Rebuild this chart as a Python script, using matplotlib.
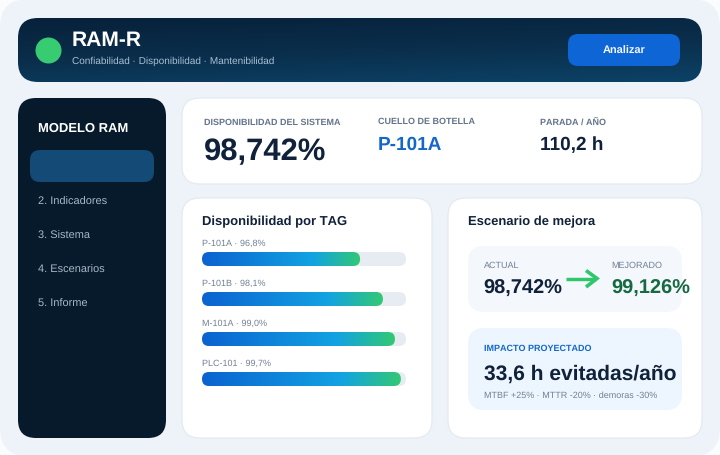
import numpy as np
import matplotlib
matplotlib.use("Agg")
import matplotlib.pyplot as plt
from matplotlib.patches import FancyBboxPatch
from matplotlib.colors import LinearSegmentedColormap

plt.rcParams['font.family'] = ['Liberation Sans', 'DejaVu Sans']
plt.rcParams['text.hinting'] = 'no_hinting'
plt.rcParams['text.hinting_factor'] = 1

# ---- data ----
tag_names = ["P-101A", "P-101B", "M-101A", "PLC-101"]
tag_labels = ["96,8%", "98,1%", "99,0%", "99,7%"]
tag_fill_pct = [77.5, 88.7, 94.6, 97.5]
nav_items = ["2. Indicadores", "3. Sistema", "4. Escenarios", "5. Informe"]
kpi_main = "98,742%"
kpi_bottleneck = "P-101A"
kpi_stop = "110,2 h"
scenario_now = "98,742%"
scenario_better = "99,126%"
impact_value = "33,6 h evitadas/año"
impact_note = "MTBF +25% · MTTR -20% · demoras -30%"

W, H = 720, 456
XL, YL = (0, W), (H - 1, -1)
fig = plt.figure(figsize=(W / 100, H / 100), dpi=100, facecolor="#fbfcfd")
ax = fig.add_axes([0, 0, 1, 1])
ax.set_xlim(*XL)
ax.set_ylim(*YL)
ax.axis("off")


def rrect(x, y, w, h, r, fc, ec="none", lw=0.0, z=1):
    p = FancyBboxPatch((x, y), w, h, boxstyle=f"round,pad=0,rounding_size={r}",
                       fc=fc, ec=ec, lw=lw, zorder=z, mutation_aspect=1)
    ax.add_patch(p)
    return p


def px(s):
    return s * 0.72


def txt(x, y, s, size, color, bold=False, ha="left", z=6):
    ax.text(x, y, s, fontsize=px(size), color=color,
            fontweight="bold" if bold else "normal",
            ha=ha, va="center", zorder=z)


# page
rrect(0, -1, 720, 457, 28, "#eef3f9", z=0)

# header with diagonal gradient
hdr = rrect(18, 18, 684, 64, 20, "none", z=2)
yy, xx = np.mgrid[0:1:64j, 0:1:342j]
grad = 0.75 * yy + 0.25 * xx
hcmap = LinearSegmentedColormap.from_list("h", ["#07213a", "#0a2e4b", "#0c4267"])
im = ax.imshow(grad, extent=(18, 702, 82, 18), cmap=hcmap, vmin=0, vmax=1,
               aspect="auto", zorder=2, interpolation="bilinear")
im.set_clip_path(hdr)
ax.set_xlim(*XL)
ax.set_ylim(*YL)

ax.scatter([48], [50], s=(26 * 0.72) ** 2, color="#37cc72", linewidths=0, zorder=5)
txt(72, 40, "RAM-R", 21.2, "#ffffff", True)
txt(72, 60, "Confiabilidad · Disponibilidad · Mantenibilidad", 10, "#a9c0d6")
rrect(568, 34, 112, 32, 10, "#0e65d6", z=4)
txt(624, 50.5, "Analizar", 11.3, "#f2f7ff", True, ha="center")

# sidebar
rrect(18, 98, 148, 340, 18, "#071a2b", z=2)
txt(38, 127.5, "MODELO RAM", 13, "#ffffff", True)
rrect(30, 150, 124, 32, 10, "#144a76", z=3)
for i, item in enumerate(nav_items):
    txt(38, 200.8 + 34 * i, item, 11, "#a7b7c6")

# KPI card
border = "#e4eaf2"
rrect(182, 98, 520, 86, 18, "#ffffff", border, 0.9, z=2)
txt(204, 122, "DISPONIBILIDAD DEL SISTEMA", 9, "#64748b", True)
txt(204, 151, kpi_main, 31.5, "#10213a", True)
txt(378, 121, "CUELLO DE BOTELLA", 9, "#64748b", True)
txt(378, 144, kpi_bottleneck, 19.5, "#1468cc", True)
txt(540, 121, "PARADA / AÑO", 9, "#64748b", True)
txt(540, 144, kpi_stop, 19.5, "#10213a", True)

# TAG card
rrect(182, 198, 250, 240, 18, "#ffffff", border, 0.9, z=2)
txt(202, 220.5, "Disponibilidad por TAG", 13, "#10213a", True)
bar_cmap = LinearSegmentedColormap.from_list(
    "b", [(0, "#0b62d0"), (0.7, "#12a3e2"), (1, "#32c874")])
track_x, track_w, bar_h = 202, 204, 14
for i, (name, label, pct) in enumerate(zip(tag_names, tag_labels, tag_fill_pct)):
    top = 252 + 40 * i
    txt(202, 243 + 40 * i, f"{name} · {label}", 9, "#718096")
    rrect(track_x, top, track_w, bar_h, 7, "#e7ecf2", z=3)
    w = track_w * pct / 100
    clip = rrect(track_x, top, w, bar_h, 7, "none", z=4)
    g = ax.imshow(np.linspace(0, 1, 256)[None, :], extent=(track_x, track_x + w, top + bar_h, top),
                  cmap=bar_cmap, aspect="auto", zorder=4, interpolation="bilinear")
    g.set_clip_path(clip)
ax.set_xlim(*XL)
ax.set_ylim(*YL)

# Scenario card
rrect(448, 198, 254, 240, 18, "#ffffff", border, 0.9, z=2)
txt(468, 220.5, "Escenario de mejora", 13, "#10213a", True)
rrect(468, 246, 214, 66, 16, "#f4f7fb", z=3)
txt(484, 265, "ACTUAL", 9, "#718096")
txt(483.6, 288, scenario_now, 20.2, "#10213a", True)
txt(611.6, 265, "MEJORADO", 9, "#718096")
txt(611.6, 288, scenario_better, 20.2, "#166a41", True, z=7)
arrow_c = "#2ec76c"
ax.plot([566, 596], [278.5, 278.5], color=arrow_c, lw=px(3.4), solid_capstyle="butt", zorder=6)
ax.plot([586, 597, 586], [270.5, 278.5, 287], color=arrow_c, lw=px(3.6),
        solid_joinstyle="miter", solid_capstyle="butt", zorder=6)

rrect(468, 328, 214, 82, 16, "#edf6fe", z=3)
txt(484, 348, "IMPACTO PROYECTADO", 9, "#1468cc", True)
txt(484, 373, impact_value, 21, "#10213a", True)
txt(484, 395, impact_note, 9, "#718096")

fig.savefig("out.png", dpi=100, facecolor=fig.get_facecolor())
